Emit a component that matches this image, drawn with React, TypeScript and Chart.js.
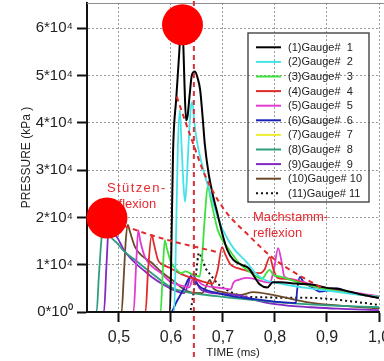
import React, { useEffect, useRef } from 'react';
import { Chart, registerables } from 'chart.js';

Chart.register(...registerables);

const FONT = '"Liberation Sans", Arial, sans-serif';

// ---- axes ----
const timeRange = [0.4385, 1.0];
const pressureRange = [0, 65300];
const xTickLabels = ['0,5', '0,6', '0,7', '0,8', '0,9', '1,0'];
const yTickValues = [0, 10000, 20000, 30000, 40000, 50000, 60000];
const yTickLabels = ['0*10⁰', '1*10⁴', '2*10⁴', '3*10⁴', '4*10⁴', '5*10⁴', '6*10⁴'];
const xTitle = 'TIME (ms)';
const yTitle = 'PRESSURE (kPa )';

// ---- legend ----
const gaugeNames = [
  '(1)Gauge#  1', '(2)Gauge#  2', '(3)Gauge#  3', '(4)Gauge#  4', '(5)Gauge#  5', '(6)Gauge#  6',
  '(7)Gauge#  7', '(8)Gauge#  8', '(9)Gauge#  9', '(10)Gauge# 10', '(11)Gauge# 11',
];
const gaugeColors = [
  '#000000', '#45e3e8', '#3ee03e', '#e02a2a', '#e03cd0', '#1c22b8',
  '#eeee30', '#2f9e7e', '#8428c4', '#6b4a28', '#111111',
];

// ---- gauge traces: [time ms, pressure kPa] ----
const gauge1: [number, number][] = [
  [0.4385, 0], [0.598, 0], [0.601, 15000], [0.604, 34000], [0.61, 45000], [0.616, 55000], [0.619, 61000],
  [0.621, 62500], [0.623, 59000], [0.626, 48000], [0.629, 40500], [0.632, 41500], [0.636, 46000],
  [0.64, 50000], [0.646, 50800], [0.651, 49500], [0.656, 47000], [0.661, 41000], [0.665, 35500],
  [0.672, 29500], [0.68, 25000], [0.69, 20500], [0.70, 16000], [0.708, 13200], [0.72, 11000],
  [0.735, 10000], [0.75, 9200], [0.76, 7500], [0.771, 5800], [0.785, 5200], [0.796, 6300], [0.81, 6300],
  [0.84, 6000], [0.87, 5800], [0.90, 5100], [0.919, 4900], [0.944, 4300], [0.97, 3600], [1.0, 3000],
];
const gauge2: [number, number][] = [
  [0.4385, 0], [0.606, 0], [0.609, 12000], [0.613, 34000], [0.617, 42700], [0.620, 36000], [0.624, 27000],
  [0.627, 23300], [0.630, 27000], [0.634, 36000], [0.638, 43000], [0.641, 44400], [0.645, 40000],
  [0.65, 36000], [0.66, 31000], [0.67, 27000], [0.68, 23500], [0.69, 20000], [0.70, 17300], [0.72, 13500],
  [0.746, 10500], [0.76, 8500], [0.78, 6800], [0.80, 6200], [0.83, 5600], [0.86, 5100], [0.90, 4500],
  [0.95, 3800], [1.0, 3200],
];
const gauge3: [number, number][] = [
  [0.4385, 0], [0.58, 0], [0.584, 8000], [0.588, 15200], [0.592, 13500], [0.60, 10500], [0.61, 9000],
  [0.62, 8200], [0.628, 8600], [0.64, 8000], [0.655, 7500], [0.66, 12000], [0.665, 20000], [0.671, 26800],
  [0.676, 24000], [0.685, 19500], [0.69, 17300], [0.70, 15000], [0.713, 13000], [0.73, 10500],
  [0.746, 8900], [0.76, 7800], [0.775, 7000], [0.785, 8500], [0.79, 8900], [0.797, 7800], [0.81, 7500],
  [0.83, 6800], [0.86, 5800], [0.90, 4800], [0.95, 3900], [1.0, 3200],
];
const gauge4: [number, number][] = [
  [0.4385, 0], [0.551, 0], [0.556, 9000], [0.563, 16300], [0.567, 14500], [0.575, 11000], [0.58, 10300],
  [0.60, 9200], [0.62, 8000], [0.64, 7200], [0.665, 6300], [0.68, 6000], [0.69, 9000], [0.698, 13700],
  [0.705, 12000], [0.715, 10000], [0.73, 9200], [0.75, 8600], [0.77, 8200], [0.78, 9000], [0.79, 11600],
  [0.797, 9000], [0.805, 7200], [0.82, 7000], [0.85, 6300], [0.88, 5200], [0.92, 4400], [0.96, 3800],
  [1.0, 3000],
];
const gauge5: [number, number][] = [
  [0.4385, 0], [0.528, 0], [0.533, 10000], [0.537, 17300], [0.541, 15000], [0.55, 11600], [0.565, 9500],
  [0.58, 8300], [0.60, 6300], [0.62, 5600], [0.635, 5200], [0.643, 7200], [0.65, 6800], [0.66, 5800],
  [0.68, 5300], [0.70, 5000], [0.715, 4800], [0.72, 6200], [0.73, 6800], [0.745, 7200], [0.76, 7000],
  [0.775, 6500], [0.79, 6200], [0.798, 9000], [0.806, 13500], [0.812, 11000], [0.818, 7500], [0.83, 7000],
  [0.85, 6500], [0.88, 5500], [0.92, 4600], [0.96, 4000], [1.0, 3300],
];
const gauge6: [number, number][] = [
  [0.4385, 0], [0.60, 0], [0.61, 2000], [0.625, 5000], [0.638, 7500], [0.645, 6500], [0.66, 5000],
  [0.69, 4000], [0.72, 3300], [0.76, 2700], [0.80, 2200], [0.84, 1900], [0.843, 5000], [0.848, 7400],
  [0.855, 6300], [0.87, 5300], [0.887, 4300], [0.90, 4500], [0.92, 5000], [0.94, 4200], [0.97, 3600],
  [1.0, 3000],
];
// gauge 7 shows no signal in the reference (flat on the time axis)
const gauge7: [number, number][] = [
  [0.4385, 0], [0.6, 0], [0.8, 0], [1.0, 0],
];
const gauge8: [number, number][] = [
  [0.4385, 0], [0.457, 0], [0.461, 7000], [0.466, 15000], [0.471, 20000], [0.476, 18500], [0.484, 16000],
  [0.496, 14600], [0.51, 12800], [0.531, 11000], [0.563, 8200], [0.602, 5100], [0.63, 4200], [0.66, 3700],
  [0.70, 3200], [0.75, 2600], [0.80, 2100], [0.85, 1700], [0.90, 1400], [1.0, 1000],
];
const gauge9: [number, number][] = [
  [0.4385, 0], [0.471, 0], [0.476, 10000], [0.481, 19000], [0.486, 18000], [0.492, 16500], [0.498, 15500],
  [0.51, 13000], [0.531, 10400], [0.55, 8600], [0.563, 7400], [0.585, 5800], [0.608, 4500], [0.625, 4000],
  [0.632, 5500], [0.64, 8000], [0.645, 7500], [0.655, 5000], [0.67, 4200], [0.70, 3800], [0.733, 3500],
  [0.76, 2600], [0.79, 1800], [0.83, 1300], [0.87, 1000], [0.92, 700], [1.0, 400],
];
const gauge10: [number, number][] = [
  [0.4385, 0], [0.505, 0], [0.509, 7000], [0.513, 15000], [0.517, 18400], [0.521, 17000], [0.531, 13700],
  [0.545, 11800], [0.563, 10400], [0.58, 8600], [0.602, 6800], [0.62, 5200], [0.637, 4200], [0.66, 4000],
  [0.668, 5500], [0.675, 6800], [0.68, 5200], [0.70, 4200], [0.733, 3600], [0.758, 4200], [0.796, 3600],
  [0.83, 2800], [0.86, 2100], [0.93, 1300], [1.0, 800],
];
const gauge11: [number, number][] = [
  [0.4385, 0], [0.636, 0], [0.642, 3000], [0.648, 8000], [0.654, 12500], [0.66, 11000], [0.668, 9000],
  [0.675, 8000], [0.69, 6000], [0.71, 4500], [0.74, 3300], [0.78, 3100], [0.82, 3000], [0.86, 3000],
  [0.90, 2800], [0.95, 2200], [1.0, 1500],
];
const gauges = [gauge1, gauge2, gauge3, gauge4, gauge5, gauge6, gauge7, gauge8, gauge9, gauge10, gauge11];

// ---- annotations ----
const stuetzenTimes = [0.478, 0.515, 0.56, 0.608, 0.688];
const stuetzenPressures = [19500, 18000, 16300, 14800, 12700];
const machTimes = [0.611, 0.64, 0.665, 0.70, 0.752, 0.796, 0.829, 0.89];
const machPressures = [45500, 36400, 29000, 22000, 15900, 11400, 8900, 5100];
const markerTimes = [0.6221, 0.4769];
const markerPressures = [60700, 19870];
const markerLineTime = 0.644;
const markerLinePressures = [-9500, 66500];
const annotationTexts = [['Stützen-', 'reflexion'], ['Machstamm-', 'reflexion']];

const toPoints = (xs: number[], ys: number[]) => xs.map((x, i) => ({ x, y: ys[i] }));

const decorPlugin = {
  id: 'decor',
  beforeDatasetsDraw(chart: any) {
    const { ctx, chartArea: a } = chart;
    ctx.save();
    ctx.strokeStyle = '#8c8c8c';
    ctx.lineWidth = 1;
    ctx.beginPath();
    ctx.moveTo(a.left, a.top + 0.5);
    ctx.lineTo(chart.width, a.top + 0.5);
    ctx.stroke();
    ctx.fillStyle = '#e52a30';
    ctx.font = `13px ${FONT}`;
    ctx.textAlign = 'left';
    ctx.textBaseline = 'alphabetic';
    const anchors = [
      [a.left + 20, a.top + 188.5],
      [a.left + 166, a.top + 217.5],
    ];
    annotationTexts.forEach((lines, i) => {
      lines.forEach((t, j) => {
        ctx.letterSpacing = i === 0 && j === 0 ? '1.4px' : '0px';
        ctx.fillText(t, anchors[i][0], anchors[i][1] + j * 16);
      });
    });
    ctx.letterSpacing = '0px';
    ctx.restore();
  },
  afterDatasetsDraw(chart: any) {
    const { ctx, chartArea: a } = chart;
    const bx = a.right - 131;
    const by = a.top + 30;
    ctx.save();
    ctx.strokeStyle = '#454545';
    ctx.lineWidth = 1.4;
    ctx.strokeRect(bx, by, 121, 169);
    ctx.font = `11px ${FONT}`;
    ctx.textBaseline = 'middle';
    ctx.textAlign = 'left';
    gaugeNames.forEach((name, i) => {
      const y = by + 14.3 + i * 14.6;
      ctx.strokeStyle = gaugeColors[i];
      ctx.lineWidth = 2;
      ctx.setLineDash(i === 10 ? [2, 3] : []);
      ctx.beginPath();
      ctx.moveTo(bx + 8, y);
      ctx.lineTo(bx + 33, y);
      ctx.stroke();
      ctx.fillStyle = '#222';
      ctx.fillText(name, bx + 40, y + 0.5);
    });
    ctx.restore();
  },
};

export default function App() {
  const ref = useRef<HTMLCanvasElement | null>(null);
  useEffect(() => {
    if (!ref.current) return;
    const gaugeSets = gauges.map((g, i) => ({
      label: gaugeNames[i],
      data: g.map(([x, y]) => ({ x, y })),
      borderColor: gaugeColors[i],
      borderWidth: i === 0 || i === 10 ? 2 : 1.8,
      borderDash: i === 10 ? [2, 3] : [],
      pointRadius: 0,
      cubicInterpolationMode: 'monotone' as const,
      order: i,
    }));
    const chart = new Chart(ref.current, {
      type: 'line',
      data: {
        datasets: [
          ...gaugeSets,
          {
            label: 'Stützenreflexion',
            data: toPoints(stuetzenTimes, stuetzenPressures),
            borderColor: '#e02a2a',
            borderWidth: 2,
            borderDash: [5, 4],
            pointRadius: 0,
            cubicInterpolationMode: 'monotone',
            order: -1,
          },
          {
            label: 'Machstammreflexion',
            data: toPoints(machTimes, machPressures),
            borderColor: '#e02a2a',
            borderWidth: 2,
            borderDash: [5, 4],
            pointRadius: 0,
            cubicInterpolationMode: 'monotone',
            order: -1,
          },
          {
            label: 'marker line',
            data: markerLinePressures.map((y) => ({ x: markerLineTime, y })),
            borderColor: '#d8303c',
            borderWidth: 2,
            borderDash: [5, 4],
            pointRadius: 0,
            clip: false,
            order: -2,
          },
          {
            label: 'markers',
            data: toPoints(markerTimes, markerPressures),
            showLine: false,
            pointRadius: 20.5,
            pointBackgroundColor: '#ff0000',
            pointBorderWidth: 0,
            pointBorderColor: '#ff0000',
            clip: false,
            order: -3,
          },
        ] as any,
      },
      options: {
        animation: false,
        responsive: false,
        layout: { autoPadding: false, padding: { top: 3, right: 11, bottom: 0, left: 0 } },
        plugins: { legend: { display: false }, tooltip: { enabled: false } },
        scales: {
          x: {
            type: 'linear',
            min: timeRange[0],
            max: timeRange[1],
            ticks: {
              stepSize: 0.1,
              includeBounds: false,
              autoSkip: false,
              maxRotation: 0,
              padding: 6,
              color: '#222',
              font: { family: FONT, size: 16 },
              callback: (v: any) => xTickLabels[Math.round((Number(v) - 0.5) / 0.1)] ?? '',
            },
            grid: { color: '#9a9a9a', lineWidth: 1, tickColor: '#111', tickLength: 10, tickWidth: 2 },
            border: { color: '#111', width: 2, dash: [2, 2], z: 1 },
            title: { display: true, text: xTitle, color: '#222', font: { family: FONT, size: 11.5 }, padding: { top: 0, bottom: 1 } },
            afterFit: (s: any) => { s.height = 49; s.paddingLeft = 0; s.paddingRight = 0; },
          },
          y: {
            type: 'linear',
            min: pressureRange[0],
            max: pressureRange[1],
            ticks: {
              includeBounds: false,
              autoSkip: false,
              padding: 4,
              color: '#222',
              font: { family: FONT, size: 15 },
              callback: (v: any) => yTickLabels[yTickValues.indexOf(Number(v))] ?? '',
            },
            grid: { color: '#9a9a9a', lineWidth: 1, tickColor: '#111', tickLength: 10, tickWidth: 2 },
            border: { color: '#111', width: 2, dash: [2, 2] },
            title: { display: true, text: yTitle, color: '#222', font: { family: FONT, size: 12 }, padding: { top: 19, bottom: 0 } },
            afterBuildTicks: (s: any) => {
              s.ticks = yTickValues.map((value) => ({ value }));
              s.min = pressureRange[0];
              s.max = pressureRange[1];
            },
            afterFit: (s: any) => { s.width = 87; s.paddingTop = 0; s.paddingBottom = 0; },
          },
        },
      } as any,
      plugins: [decorPlugin],
    });
    return () => chart.destroy();
  }, []);
  return (
    <div style={{ position: 'fixed', left: 0, top: 0, width: 384, height: 361, overflow: 'hidden', background: '#fff' }}>
      <canvas ref={ref} width={390} height={361} />
    </div>
  );
}
